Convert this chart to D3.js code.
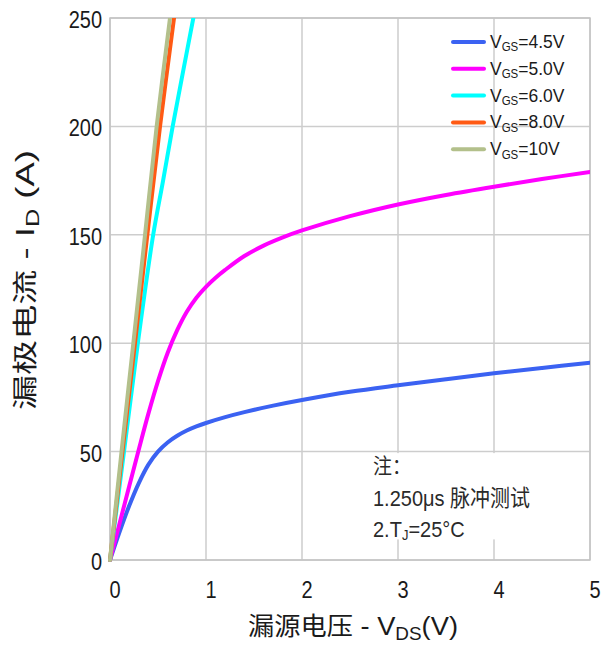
<!DOCTYPE html>
<html><head><meta charset="utf-8">
<script src="https://cdn.jsdelivr.net/npm/d3@7"></script>
<style>
body{margin:0;background:#fff;}
text{font-family:"Liberation Sans","Noto Sans CJK SC",Arial,sans-serif;}
</style></head>
<body><svg id="c" width="602" height="645"></svg>
<script>
const xTicks=[0,1,2,3,4,5];
const yTicks=[0,50,100,150,200,250];
const seriesNames=["4.5V","5.0V","6.0V","8.0V","10V"];
const seriesColors=["#3b62f2","#ff00ff","#00ffff","#ff5a14","#b3c08b"];
const vgs45=[[0,0],[0.1,13],[0.2,25],[0.3,35.5],[0.4,44],[0.5,50],[0.6,54.2],[0.7,57.3],[0.8,59.7],[0.9,61.6],[1.0,63.2],[1.2,65.9],[1.4,68.2],[1.7,71.2],[2,73.8],[2.5,77.6],[3,80.6],[3.5,83.4],[4,86.1],[4.5,88.6],[5,91]];
const vgs50=[[0,0],[0.1,17],[0.2,34],[0.3,51],[0.4,67.5],[0.5,82.5],[0.6,95.5],[0.7,106],[0.8,114.5],[0.9,121],[1.0,126],[1.1,130.2],[1.2,133.8],[1.4,140.2],[1.6,145],[1.8,148.8],[2.0,152],[2.5,158.6],[3,164],[3.5,168.4],[4,172.2],[4.5,175.7],[5,179]];
const vgs60=[[0,0],[0.146,50],[0.29,100],[0.45,150],[0.553,175],[0.653,200],[0.76,225],[0.868,250]];
const vgs80=[[0,0],[0.13,50],[0.26,100],[0.389,150],[0.521,200],[0.667,250]];
const vgs10=[[0,0],[0.12,50],[0.243,100],[0.365,150],[0.486,200],[0.625,250]];
const allSeries=[vgs45,vgs50,vgs60,vgs80,vgs10];

const svg=d3.select("#c");
const L=110,R=590,T=18,B=560;
const x=d3.scaleLinear().domain([0,5]).range([L,R]);
const y=d3.scaleLinear().domain([0,250]).range([B,T]);

// grid
const g=svg.append("g");
g.selectAll("line.v").data(xTicks).join("line")
 .attr("x1",d=>x(d)).attr("x2",d=>x(d)).attr("y1",T).attr("y2",B)
 .attr("stroke","#cdcdcd").attr("stroke-width",1.5);
g.selectAll("line.h").data(yTicks).join("line")
 .attr("x1",L).attr("x2",R).attr("y1",d=>y(d)).attr("y2",d=>y(d))
 .attr("stroke","#cdcdcd").attr("stroke-width",1.5);

// note box (white, hides gridlines)
svg.append("rect").attr("x",x(2.55)).attr("y",y(49.3)).attr("width",R-x(2.55)-1).attr("height",y(9.5)-y(49.3)).attr("fill","#fff");

// border
svg.append("rect").attr("x",L).attr("y",T).attr("width",R-L).attr("height",B-T)
 .attr("fill","none").attr("stroke","#c4c4c4").attr("stroke-width",1.5);

// axes labels
svg.append("g").selectAll("text").data(yTicks).join("text")
 .attr("transform",d=>`translate(${L-8},${y(d)+10}) scale(1,1.15)`).attr("text-anchor","end")
 .attr("font-size",20).attr("fill","#1a1a1a").text(d=>d);
svg.append("g").selectAll("text").data(xTicks).join("text")
 .attr("transform",d=>`translate(${x(d)+5},${B+38}) scale(1,1.15)`).attr("text-anchor","middle")
 .attr("font-size",20).attr("fill","#1a1a1a").text(d=>d);

// clip
svg.append("clipPath").attr("id","cp").append("rect").attr("x",L-3).attr("y",T).attr("width",R-L+3).attr("height",B-T+3);
const line=d3.line().x(d=>x(d[0])).y(d=>y(d[1])).curve(d3.curveCatmullRom.alpha(0.5));
svg.append("g").attr("clip-path","url(#cp)").selectAll("path").data(allSeries).join("path")
 .attr("d",line).attr("fill","none").attr("stroke",(d,i)=>seriesColors[i])
 .attr("stroke-width",4).attr("stroke-linecap","round").attr("stroke-linejoin","round");

// legend
const lg=svg.append("g");
seriesNames.forEach((n,i)=>{
  const yy=42+i*26.8;
  lg.append("line").attr("x1",453).attr("x2",484).attr("y1",yy).attr("y2",yy)
   .attr("stroke",seriesColors[i]).attr("stroke-width",4).attr("stroke-linecap","round");
  const t=lg.append("text").attr("transform",`translate(490,${yy+6}) scale(1,1.1)`).attr("font-size",17.5).attr("fill","#1a1a1a");
  t.append("tspan").text("V");
  t.append("tspan").attr("font-size",11.5).attr("dy",3).text("GS");
  t.append("tspan").attr("dy",-3).text("="+n);
});

// note
const nt=svg.append("g").attr("fill","#2a2a2a").attr("font-size",20);
nt.append("text").attr("transform","translate(373,473) scale(1,1.1)").attr("font-family","Noto Sans CJK SC").attr("font-size",19).text("注：");
nt.append("text").attr("transform","translate(373,506) scale(1,1.12)").text("1.250μs 脉冲测试");
const t2=nt.append("text").attr("transform","translate(373,537) scale(1,1.12)");
t2.append("tspan").text("2.T");
t2.append("tspan").attr("font-size",13).attr("dy",3).text("J");
t2.append("tspan").attr("dy",-3).text("=25°C");

// x title
const xt=svg.append("text").attr("x",353).attr("y",635).attr("text-anchor","middle").attr("font-size",26).attr("fill","#1a1a1a")
 .attr("textLength",210).attr("lengthAdjust","spacingAndGlyphs");
xt.append("tspan").attr("font-family","Noto Sans CJK SC").attr("font-size",25).text("漏源电压");
xt.append("tspan").text(" - V");
xt.append("tspan").attr("font-size",18).attr("dy",5).text("DS");
xt.append("tspan").attr("dy",-5).text("(V)");

// y title
const yt=svg.append("text").attr("transform","translate(34,280) rotate(-90)").attr("text-anchor","middle").attr("font-size",26).attr("fill","#1a1a1a")
 .attr("textLength",260).attr("lengthAdjust","spacingAndGlyphs");
yt.append("tspan").attr("font-family","Noto Sans CJK SC").attr("font-size",25).text("漏极电流");
yt.append("tspan").text(" - I");
yt.append("tspan").attr("font-size",18).attr("dy",5).text("D");
yt.append("tspan").attr("dy",-5).text(" (A)");
</script></body></html>
